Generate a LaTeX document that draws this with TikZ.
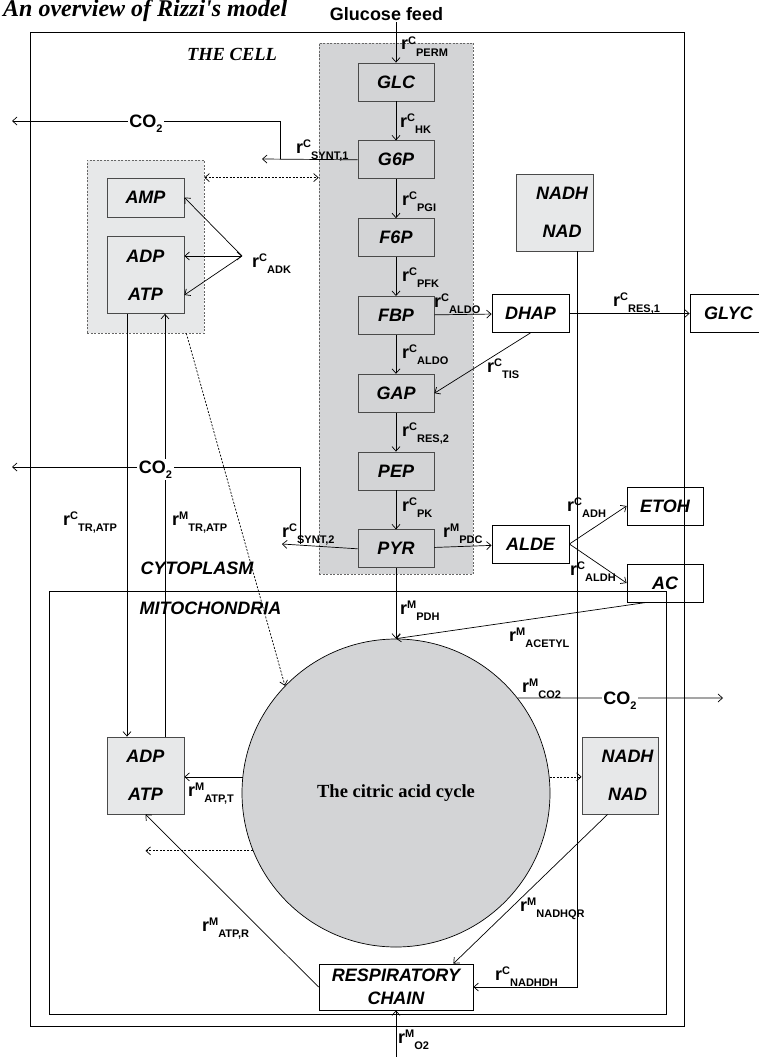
\documentclass[tikz,border=0pt]{standalone}
\usepackage{fontspec}
\setmainfont{Liberation Serif}
\setsansfont{Liberation Sans}
\usepackage{tikz}
\usetikzlibrary{positioning, arrows.meta, calc}
\definecolor{glygrey}{HTML}{D3D4D6}
\definecolor{pale}{HTML}{E7E8E9}
\definecolor{edge}{HTML}{4A4A4A}
\newcommand{\boxfont}{\fontsize{18}{20}\selectfont\sffamily\bfseries\itshape}
\newcommand{\pairfont}{\fontsize{18}{38}\selectfont\sffamily\bfseries\itshape}
\newcommand{\ratefont}{\fontsize{18}{20}\selectfont\sffamily\bfseries}
\newcommand{\sml}{\fontsize{11}{12}\selectfont}
\newcommand{\rsym}[2]{r\raisebox{5.5pt}{\sml #1}\raisebox{-6.5pt}{\sml #2}}
\newcommand{\cotwo}{CO\raisebox{-5pt}{\sml 2}}

\begin{document}
\begin{tikzpicture}[
  x=1pt, y=-1pt,
  >={Straight Barb[length=4.5pt,width=8pt]},
  glybox/.style={rectangle, draw=edge, line width=0.8pt, fill=glygrey,
                 minimum width=76pt, minimum height=38pt, font=\boxfont},
  palebox/.style={rectangle, draw=edge, line width=0.8pt, fill=pale,
                  minimum width=77pt, minimum height=77pt, align=center, font=\pairfont},
  plainbox/.style={rectangle, draw=black, line width=0.8pt,
                   minimum width=77pt, minimum height=38pt, font=\boxfont},
  zone/.style={rectangle, draw=black!60, line width=0.7pt, dash pattern=on 2pt off 1.5pt},
  ratelab/.style={anchor=base west, inner sep=0pt, font=\ratefont},
  gaslab/.style={anchor=base, fill=white, inner sep=1.5pt, font=\ratefont},
  flux/.style={->, line width=0.7pt},
  dflux/.style={flux, dash pattern=on 2pt off 1.5pt},
  compart/.style={font=\boxfont}
]
\useasboundingbox (0,0) rectangle (758,1057);
% Cell and mitochondria walls
\draw[line width=0.8pt] (30,32) rectangle (684,1026);
\draw[line width=0.8pt] (49,591) rectangle (666,1014);
% Shaded groups
\node[zone, fill=glygrey, minimum width=154pt, minimum height=531pt] (glyreg) at (396,308.5) {};
\node[zone, fill=pale, minimum width=117pt, minimum height=173pt] (adkreg) at (145.5,246.5) {};
% Headings
\node[anchor=base west, inner sep=0pt, font=\fontsize{24}{26}\selectfont\rmfamily\bfseries\itshape]
  (title) at (3,17) {An overview of Rizzi\textquotesingle s model};
\node[anchor=base, inner sep=1pt, font=\fontsize{18}{20}\selectfont\sffamily\bfseries]
  (feed) at (386.5,21) {Glucose feed};
\node[font=\fontsize{18.5}{20}\selectfont\rmfamily\bfseries\itshape] (cell) at (232,54) {THE CELL};
\node[compart] (cyto) at (197,568) {CYTOPLASM};
\node[compart] (mito) at (210.5,608) {MITOCHONDRIA};
% Glycolysis
\node[glybox] (glc) at (396,82) {GLC};
\node[glybox, below=39pt of glc] (g6p) {G6P};
\node[glybox, below=39pt of g6p] (f6p) {F6P};
\node[glybox, below=39pt of f6p] (fbp) {FBP};
\node[glybox, below=39pt of fbp] (gap) {GAP};
\node[glybox, below=39pt of gap] (pep) {PEP};
\node[glybox, below=39pt of pep] (pyr) {PYR};
% Adenylates and redox pools
\node[palebox, minimum height=39pt, font=\boxfont] (amp) at (145.5,197.5) {AMP};
\node[palebox] (adpc) at (145.5,275) {ADP\\ATP};
\node[palebox] (nadc) at (554.5,212.5) {\hspace*{15pt}NADH\\\hspace*{15pt}NAD};
\node[palebox] (adpm) at (145.5,775.5) {ADP\\ATP};
\node[palebox, minimum width=76pt] (nadm) at (620,775.5) {\hspace*{15pt}NADH\\\hspace*{15pt}NAD};
% Side products
\node[plainbox] (dhap) at (530.5,313.5) {DHAP};
\node[plainbox] (glyc) at (728.5,313.5) {GLYC};
\node[plainbox] (alde) at (530.5,544) {ALDE};
\node[plainbox, minimum width=76pt] (etoh) at (665,506) {ETOH};
\node[plainbox, minimum width=76pt] (ac) at (665,583) {AC};
\node[plainbox, minimum width=154pt, minimum height=46pt, align=center,
      font=\fontsize{18}{23}\selectfont\sffamily\bfseries\itshape] (resp) at (396,987) {RESPIRATORY\\CHAIN};
\node[circle, draw=black, line width=0.7pt, fill=glygrey, minimum size=308pt, inner sep=0pt,
      font=\fontsize{18.5}{20}\selectfont\rmfamily\bfseries] (tca) at (396,793) {The citric acid cycle};
% Free ends
\coordinate (synt1out) at (262,159);
\coordinate (br1) at (280,159);
\coordinate (co2out1) at (12,121);
\coordinate (synt2out) at (282,544);
\coordinate (br2) at (300,544);
\coordinate (co2out2) at (12,467);
\coordinate (co2out3) at (723,698);
\coordinate (adk) at (242,256);
\coordinate (o2in) at (396,1057);
% Fluxes
\draw[flux] (feed.south -| glc.north) -- (glc.north);
\foreach \a/\b in {glc/g6p, g6p/f6p, f6p/fbp, fbp/gap, gap/pep, pep/pyr}
  \draw[flux] (\a) -- (\b);
\draw[flux] (g6p.west) -- (synt1out);
\draw[flux] (br1) |- (co2out1);
\draw[flux] (pyr.west) -- (synt2out);
\draw[flux] (br2) |- (co2out2);
\draw[dflux, <->] (amp.north -| adkreg.east) -- (amp.north -| glyreg.west);
\draw[flux, <-] (amp.east) -- (adk);
\draw[flux, <->] ($(adpc.east)+(0,-19)$) -- (adk);
\draw[flux, <-] ($(adpc.east)+(0,20)$) -- (adk);
\draw[flux] ($(adpc.south)+(-18.5,0)$) -- ($(adpm.north)+(-18.5,0)$);
\draw[flux] ($(adpm.north)+(19.5,0)$) -- ($(adpc.south)+(19.5,0)$);
\draw[dflux] ($(adkreg.south east)+(-18,0)$) -- (tca.136);
\draw[flux] (fbp) -- (dhap);
\draw[flux] (dhap) -- (glyc);
\draw[flux] (dhap.south) -- (gap.east);
\draw[flux] (pyr) -- (alde);
\draw[flux] (alde.east) -- (etoh.west);
\draw[flux] (alde.east) -- (ac.west);
\draw[flux] (pyr) -- (tca);
\draw[flux] ($(ac.south west)+(20,0)$) -- (tca.north);
\draw[flux] ($(nadc.south east)+(-16,0)$) |- (resp.east);
\draw[flux] (tca.174) -- (tca.174 -| adpm.east);
\draw[dflux] (tca.202) -- (tca.202 -| adpm);
\draw[dflux] (tca.6) -- (tca.6 -| nadm.west);
\draw[flux] (tca.38) -- (co2out3);
\draw[flux] ($(nadm.south west)+(26,0)$) -- ($(resp.north east)+(-20,0)$);
\draw[flux] (resp.west) -- (adpm.south);
\draw[flux] (o2in) -- (resp.south);
% CO2 outlets
\node[gaslab] (co2a) at (146,127.5) {\cotwo};
\node[gaslab] (co2b) at (155.5,473.5) {\cotwo};
\node[gaslab] (co2c) at (620,704.5) {\cotwo};
% Rate labels
\node[ratelab] (perm) at (401,50) {\rsym{C}{PERM}};
\node[ratelab] (hk) at (400,127) {\rsym{C}{HK}};
\node[ratelab] (pgi) at (402,205) {\rsym{C}{PGI}};
\node[ratelab] (pfk) at (402,281) {\rsym{C}{PFK}};
\node[ratelab] (aldo) at (402,358) {\rsym{C}{ALDO}};
\node[ratelab] (res2) at (402,436) {\rsym{C}{RES,2}};
\node[ratelab] (pk) at (402,511) {\rsym{C}{PK}};
\node[ratelab] (pdh) at (400,614) {\rsym{M}{PDH}};
\node[ratelab] (synt1) at (296,153) {\rsym{C}{SYNT,1}};
\node[ratelab] (aldoside) at (434,307) {\rsym{C}{ALDO}};
\node[ratelab] (res1) at (613,306) {\rsym{C}{RES,1}};
\node[ratelab] (tis) at (487,372) {\rsym{C}{TIS}};
\node[ratelab] (adklab) at (252,267) {\rsym{C}{ADK}};
\node[ratelab] (trc) at (63,525) {\rsym{C}{TR,ATP}};
\node[ratelab] (trm) at (172,525) {\rsym{M}{TR,ATP}};
\node[ratelab] (synt2) at (282,537) {\rsym{C}{SYNT,2}};
\node[ratelab] (pdc) at (443,537) {\rsym{M}{PDC}};
\node[ratelab] (adh) at (567,511) {\rsym{C}{ADH}};
\node[ratelab] (aldh) at (570,575) {\rsym{C}{ALDH}};
\node[ratelab] (acetyl) at (509,641) {\rsym{M}{ACETYL}};
\node[ratelab] (co2m) at (522,692) {\rsym{M}{CO2}};
\node[ratelab] (atpt) at (188,796) {\rsym{M}{ATP,T}};
\node[ratelab] (atpr) at (202,931) {\rsym{M}{ATP,R}};
\node[ratelab] (nadhqr) at (520,911) {\rsym{M}{NADHQR}};
\node[ratelab] (nadhdh) at (495,980) {\rsym{C}{NADHDH}};
\node[ratelab] (o2) at (398,1043) {\rsym{M}{O2}};
\end{tikzpicture}
\end{document}
